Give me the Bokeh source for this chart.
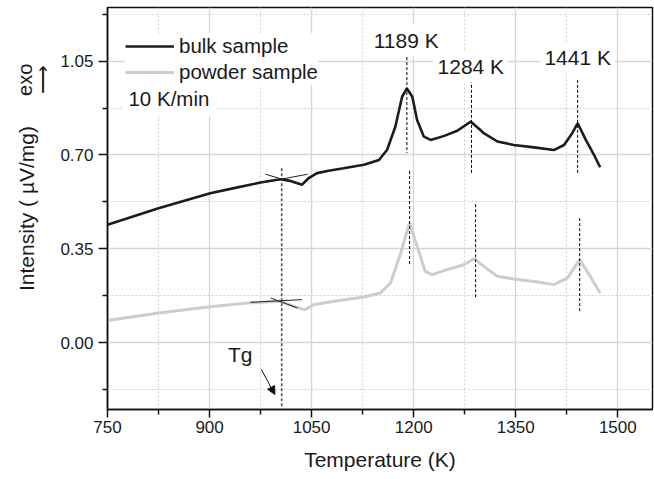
from bokeh.plotting import figure
from bokeh.models import (Label, Arrow, NormalHead, FixedTicker, Range1d, Legend,
                          LegendItem, NumeralTickFormatter, LinearAxis)
from bokeh.embed import file_html
from bokeh.resources import INLINE

# ---- data ----
bulk_T = [750, 825, 901, 936, 975, 1004, 1019, 1036, 1045, 1058, 1075, 1097, 1127, 1149,
          1161, 1173, 1183, 1190, 1198, 1205, 1215, 1225, 1245, 1264, 1284, 1298, 1303,
          1323, 1347, 1377, 1406, 1421, 1433, 1441, 1453, 1465, 1474]
bulk_I = [0.439, 0.501, 0.557, 0.576, 0.597, 0.609, 0.603, 0.589, 0.612, 0.632, 0.641,
          0.650, 0.663, 0.681, 0.719, 0.805, 0.917, 0.948, 0.917, 0.830, 0.768, 0.756,
          0.771, 0.790, 0.824, 0.793, 0.781, 0.750, 0.737, 0.728, 0.718, 0.737, 0.781,
          0.818, 0.756, 0.700, 0.654]

powder_T = [750, 825, 901, 960, 1004, 1024, 1040, 1053, 1083, 1127, 1151, 1166, 1181, 1194,
            1205, 1217, 1227, 1249, 1274, 1289, 1303, 1323, 1347, 1377, 1406, 1426, 1444,
            1458, 1474]
powder_I = [0.082, 0.110, 0.133, 0.148, 0.154, 0.135, 0.122, 0.141, 0.154, 0.170, 0.185,
            0.222, 0.334, 0.448, 0.359, 0.265, 0.253, 0.272, 0.290, 0.313, 0.284, 0.247,
            0.237, 0.228, 0.216, 0.241, 0.309, 0.253, 0.185]

peak_T = [1189, 1284, 1441]
peak_label_y = [1.128, 1.028, 1.065]

bulk_mark_T = [1190, 1285, 1441]
bulk_mark_top = [1.065, 0.98, 0.98]
bulk_mark_bot = [0.707, 0.625, 0.625]
powder_mark_T = [1194, 1291, 1444]
powder_mark_top = [0.64, 0.516, 0.464]
powder_mark_bot = [0.29, 0.164, 0.112]

Tg_T = 1006
Tg_span = [-0.238, 0.655]

tan_x0 = [982, 980, 960, 990]
tan_y0 = [0.628, 0.597, 0.150, 0.166]
tan_x1 = [1026, 1044, 1036, 1029]
tan_y1 = [0.595, 0.628, 0.160, 0.129]

x_major = [750, 900, 1050, 1200, 1350, 1500]
x_minor = [825, 975, 1125, 1275, 1425]
y_major = [0.0, 0.35, 0.70, 1.05]
y_minor = [-0.175, 0.175, 0.525, 0.875, 1.225]

exo_pos = 0.98

FONT = "Liberation Sans"
TXT = "#1a1a1a"

p = figure(width=654, height=479, output_backend="svg", toolbar_location=None,
           x_range=Range1d(750, 1551), y_range=Range1d(-0.25, 1.25),
           min_border_left=107, min_border_right=2, min_border_top=7, min_border_bottom=70,
           background_fill_color="white", border_fill_color="white")

p.outline_line_color = "#111111"
p.outline_line_width = 1.5

# grids
for g in (p.xgrid, p.ygrid):
    g.grid_line_color = "#d6d6d6"
    g.grid_line_width = 1.3
    g.minor_grid_line_color = "#cfcfcf"
    g.minor_grid_line_dash = "2 2"
    g.minor_grid_line_width = 1

p.xaxis.ticker = FixedTicker(ticks=x_major, minor_ticks=x_minor)
p.yaxis.ticker = FixedTicker(ticks=y_major, minor_ticks=y_minor)
p.xgrid.ticker = p.xaxis.ticker
p.ygrid.ticker = p.yaxis.ticker
p.yaxis.formatter = NumeralTickFormatter(format="0.00")

for ax in (p.xaxis, p.yaxis):
    ax.axis_line_color = "#111111"
    ax.axis_line_width = 1.5
    ax.major_tick_line_color = "#111111"
    ax.major_tick_line_width = 1.5
    ax.minor_tick_line_color = "#111111"
    ax.minor_tick_line_width = 1.5
    ax.major_tick_in = 0
    ax.minor_tick_in = 0
    ax.major_label_text_font = FONT
    ax.major_label_text_font_size = "17px"
    ax.major_label_text_color = TXT
    ax.axis_label_text_font = FONT
    ax.axis_label_text_font_size = "21px"
    ax.axis_label_text_font_style = "normal"
    ax.axis_label_text_color = TXT

p.xaxis.major_tick_out = 8
p.xaxis.minor_tick_out = 5
p.yaxis.major_tick_out = 9
p.yaxis.minor_tick_out = 5

p.xaxis.axis_label = "Temperature (K)"
p.yaxis.axis_label = "Intensity ( \u00b5V/mg)"
p.xaxis.major_label_standoff = 3
p.xaxis.axis_label_standoff = 12
p.yaxis.major_label_standoff = 5
p.yaxis.axis_label_standoff = 19

# "exo" indicator: an extra, bare left axis carrying a single rotated label
exo_axis = LinearAxis(ticker=FixedTicker(ticks=[exo_pos], minor_ticks=[]),
                      major_label_overrides={exo_pos: "exo\n\u27f6"},
                      major_label_orientation="vertical",
                      major_label_standoff=-47,
                      major_label_text_line_height=0.8,
                      axis_line_color=None, major_tick_line_color=None,
                      minor_tick_line_color=None,
                      major_label_text_font=FONT, major_label_text_font_size="20px",
                      major_label_text_color=TXT)
p.add_layout(exo_axis, "left")

# curves
r_powder = p.line(powder_T, powder_I, line_color="#cdcdcd", line_width=3)
r_bulk = p.line(bulk_T, bulk_I, line_color="#1c1c1c", line_width=2.6)

# peak markers
p.segment(x0=bulk_mark_T, y0=bulk_mark_top, x1=bulk_mark_T, y1=bulk_mark_bot,
          line_color="black", line_width=1, line_dash="3 2")
p.segment(x0=powder_mark_T, y0=powder_mark_top, x1=powder_mark_T, y1=powder_mark_bot,
          line_color="black", line_width=1, line_dash="3 2")

# Tg line and tangents
p.segment(x0=[Tg_T], y0=[Tg_span[0]], x1=[Tg_T], y1=[Tg_span[1]],
          line_color="#555555", line_width=1.6, line_dash="3 2")
p.segment(x0=tan_x0, y0=tan_y0, x1=tan_x1, y1=tan_y1, line_color="#222222", line_width=1)

# peak labels
for t, y in zip(peak_T, peak_label_y):
    p.add_layout(Label(x=t, y=y, text=f"{t} K", text_align="center", text_baseline="middle",
                       text_font=FONT, text_font_size="21px", text_color=TXT,
                       background_fill_color="white", background_fill_alpha=1.0,
                       padding=4))

# Tg label and arrow
p.add_layout(Label(x=945, y=-0.045, text="Tg", text_align="center", text_baseline="middle",
                   text_font=FONT, text_font_size="21px", text_color=TXT))
p.add_layout(Arrow(x_start=976, y_start=-0.100, x_end=996, y_end=-0.194,
                   line_color="#111111", line_width=1,
                   end=NormalHead(size=8, fill_color="#111111", line_color="#111111")))

# legend
legend = Legend(items=[LegendItem(label="bulk sample", renderers=[r_bulk]),
                       LegendItem(label="powder sample", renderers=[r_powder])],
                location=(18, 324), margin=0, padding=10, spacing=0,
                glyph_width=49, glyph_height=26, label_height=26, label_standoff=5,
                label_text_font=FONT, label_text_font_size="20.5px", label_text_color=TXT,
                border_line_color=None, background_fill_color="white",
                background_fill_alpha=1.0)
p.add_layout(legend)

p.add_layout(Label(x=772, y=0.910, text="10 K/min", text_align="left", text_baseline="middle",
                   text_font=FONT, text_font_size="20.5px", text_color=TXT,
                   background_fill_color="white", background_fill_alpha=1.0, padding=6))

open("out.html", "w").write(file_html(p, INLINE))
